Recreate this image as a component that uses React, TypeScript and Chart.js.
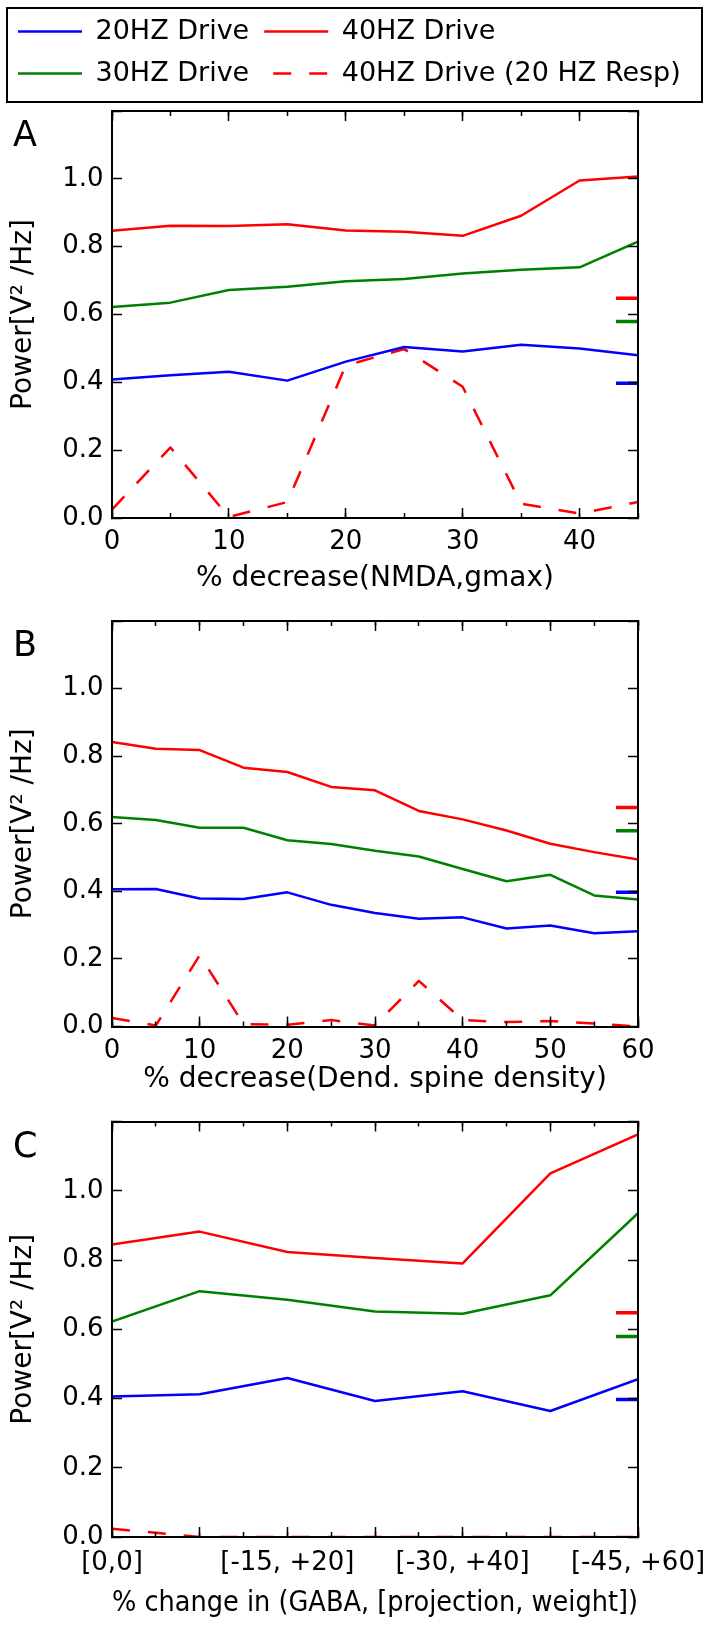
import React, { useEffect, useRef } from 'react';
import { Chart, registerables } from 'chart.js';

Chart.register(...registerables);

// ---------- data ----------
const LABEL_20 = '20HZ Drive';
const LABEL_30 = '30HZ Drive';
const LABEL_40 = '40HZ Drive';
const LABEL_40_R20 = '40HZ Drive (20 HZ Resp)';

const A_X = [0, 5, 10, 15, 20, 25, 30, 35, 40, 45];
const A_20HZ = [0.408, 0.421, 0.431, 0.405, 0.461, 0.504, 0.491, 0.511, 0.5, 0.48];
const A_30HZ = [0.622, 0.635, 0.672, 0.682, 0.698, 0.705, 0.721, 0.732, 0.739, 0.815];
const A_40HZ = [0.847, 0.862, 0.861, 0.866, 0.848, 0.844, 0.832, 0.891, 0.995, 1.007];
const A_40HZ_R20 = [0.025, 0.208, 0.003, 0.047, 0.45, 0.498, 0.387, 0.042, 0.013, 0.047];

const B_X = [0, 5, 10, 15, 20, 25, 30, 35, 40, 45, 50, 55, 60];
const B_20HZ = [0.406, 0.407, 0.379, 0.377, 0.397, 0.36, 0.336, 0.319, 0.323, 0.29, 0.299, 0.276, 0.282];
const B_30HZ = [0.62, 0.611, 0.588, 0.588, 0.551, 0.54, 0.52, 0.503, 0.466, 0.43, 0.449, 0.388, 0.376];
const B_40HZ = [0.842, 0.822, 0.818, 0.766, 0.753, 0.709, 0.699, 0.638, 0.613, 0.58, 0.541, 0.516, 0.494];
const B_40HZ_R20 = [0.025, 0.003, 0.211, 0.007, 0.005, 0.019, 0.003, 0.135, 0.019, 0.013, 0.016, 0.009, 0.0];

const C_X = [0, 10, 20, 30, 40, 50, 60];
const C_20HZ = [0.406, 0.412, 0.459, 0.393, 0.421, 0.364, 0.456];
const C_30HZ = [0.622, 0.71, 0.685, 0.651, 0.645, 0.698, 0.935];
const C_40HZ = [0.845, 0.882, 0.823, 0.806, 0.79, 1.05, 1.163];
const C_40HZ_R20 = [0.024, 0.0, 0.0, 0.0, 0.0, 0.0, 0.0];
const C_TICK_VALUES = [0, 20, 40, 60];
const C_TICK_LABELS = ['[0,0]', '[-15, +20]', '[-30, +40]', '[-45, +60]'];

// reference (baseline) power levels, shown as short marks on the right edge
const BASE_20HZ = 0.397;
const BASE_30HZ = 0.579;
const BASE_40HZ = 0.648;

const Y_MAX = 1.2;
const Y_STEP = 0.2;

const X_TITLE_A = '% decrease(NMDA,gmax)';
const X_TITLE_B = '% decrease(Dend. spine density)';
const X_TITLE_C = '% change in (GABA, [projection, weight])';
const Y_TITLE = 'Power[V\u00B2 /Hz]';

// ---------- styles ----------
const FONT = "'DejaVu Sans'";
const BLUE = '#0000ff';
const GREEN = '#008000';
const RED = '#ff0000';
const DASH = [18, 18];
const LEGEND_RANK = [0, 2, 1, 3];

const panelLetterPlugin = {
  id: 'panelLetter',
  afterDraw(chart: any, _args: any, opts: any) {
    if (!opts || !opts.text) return;
    const { ctx, chartArea } = chart;
    ctx.save();
    ctx.font = `35px ${FONT}`;
    ctx.fillStyle = '#000';
    ctx.textAlign = 'left';
    ctx.textBaseline = 'alphabetic';
    ctx.fillText(opts.text, 13, chartArea.top + 35);
    ctx.restore();
  },
};

const legendFramePlugin = {
  id: 'legendFrame',
  afterDraw(chart: any, _args: any, opts: any) {
    if (!opts || !opts.show) return;
    const { ctx } = chart;
    ctx.save();
    ctx.strokeStyle = '#000';
    ctx.lineWidth = 2;
    ctx.setLineDash([]);
    ctx.strokeRect(7, 8, 695, 94);
    ctx.restore();
  },
};

function pts(xs: number[], ys: number[]) {
  return xs.map((x, i) => ({ x, y: ys[i] }));
}

function lineDs(label: string, xs: number[], ys: number[], color: string, dash?: number[]) {
  return {
    label,
    data: pts(xs, ys),
    borderColor: color,
    backgroundColor: color,
    borderWidth: 2.5,
    borderDash: dash || [],
    pointRadius: 0,
    pointHoverRadius: 0,
    tension: 0,
    fill: false,
    clip: 0,
    borderJoinStyle: 'round',
  };
}

function baseDs(xMax: number, y: number, color: string) {
  return {
    label: '',
    data: [{ x: xMax, y }],
    showLine: false,
    pointStyle: 'line',
    pointRadius: 22,
    pointHoverRadius: 22,
    pointBorderWidth: 3.5,
    pointBorderColor: color,
    pointBackgroundColor: color,
    borderColor: color,
    clip: 0,
  };
}

interface PanelSpec {
  xs: number[];
  s20: number[];
  s30: number[];
  s40: number[];
  s40r: number[];
  xMax: number;
  letter: string;
  xTitle: string;
  xTick: (v: number) => string;
  canvasH: number;
  padTop: number;
  topAxisH: number;
  xAxisH: number;
  tickPad: number;
  titlePad: number;
  legend: boolean;
}

function makeConfig(p: PanelSpec): any {
  const tickFont = { family: FONT, size: 26 };
  const majorGrid = {
    drawOnChartArea: false,
    drawTicks: true,
    tickLength: -10,
    tickWidth: 1.5,
    tickColor: '#000',
    lineWidth: 1,
    z: 1,
  };
  const minorGrid = { ...majorGrid, tickLength: -5 };
  const border = { display: true, color: '#000', width: 2, z: 1 };
  const noBorder = { display: false };
  const noPad = (s: any) => {
    s.paddingTop = 0;
    s.paddingBottom = 0;
    s.paddingLeft = 0;
    s.paddingRight = 0;
  };

  const datasets = [
    lineDs(LABEL_20, p.xs, p.s20, BLUE),
    lineDs(LABEL_30, p.xs, p.s30, GREEN),
    lineDs(LABEL_40, p.xs, p.s40, RED),
    lineDs(LABEL_40_R20, p.xs, p.s40r, RED, DASH),
    baseDs(p.xMax, BASE_20HZ, BLUE),
    baseDs(p.xMax, BASE_30HZ, GREEN),
    baseDs(p.xMax, BASE_40HZ, RED),
  ];

  return {
    type: 'line',
    data: { datasets },
    options: {
      responsive: false,
      maintainAspectRatio: false,
      animation: false,
      devicePixelRatio: 1,
      events: [],
      layout: { autoPadding: false, padding: { top: p.padTop, left: 3, right: 0, bottom: 0 } },
      scales: {
        x: {
          type: 'linear',
          position: 'bottom',
          weight: 1,
          min: 0,
          max: p.xMax,
          afterFit: (s: any) => {
            s.height = p.xAxisH;
            noPad(s);
          },
          ticks: {
            stepSize: 10,
            includeBounds: false,
            autoSkip: false,
            maxRotation: 0,
            minRotation: 0,
            padding: p.tickPad,
            color: '#000',
            font: tickFont,
            callback: (v: number) => p.xTick(v),
          },
          grid: majorGrid,
          border,
          title: {
            display: true,
            text: p.xTitle,
            color: '#000',
            font: { family: FONT, size: 28, lineHeight: 1.2 },
            padding: { top: 0, bottom: p.titlePad },
          },
        },
        xMinor: {
          type: 'linear',
          position: 'bottom',
          weight: 0,
          min: 0,
          max: p.xMax,
          afterFit: (s: any) => {
            s.height = 0;
            noPad(s);
          },
          ticks: { stepSize: 5, display: false },
          grid: minorGrid,
          border: noBorder,
        },
        xTop: {
          type: 'linear',
          position: 'top',
          weight: 1,
          min: 0,
          max: p.xMax,
          afterFit: (s: any) => {
            s.height = p.topAxisH;
            noPad(s);
          },
          ticks: { stepSize: 10, display: false, includeBounds: false },
          grid: majorGrid,
          border,
        },
        xTopMinor: {
          type: 'linear',
          position: 'top',
          weight: 0,
          min: 0,
          max: p.xMax,
          afterFit: (s: any) => {
            s.height = 0;
            noPad(s);
          },
          ticks: { stepSize: 5, display: false },
          grid: minorGrid,
          border: noBorder,
        },
        y: {
          type: 'linear',
          position: 'left',
          min: 0,
          max: Y_MAX,
          afterFit: (s: any) => {
            s.width = 109;
            noPad(s);
          },
          ticks: {
            stepSize: Y_STEP,
            padding: 18.5,
            color: '#000',
            font: tickFont,
            callback: (v: number) => (v > 1.1 ? '' : Number(v).toFixed(1)),
          },
          grid: majorGrid,
          border,
          title: {
            display: true,
            text: Y_TITLE,
            color: '#000',
            font: { family: FONT, size: 28, lineHeight: 1.2 },
            padding: { top: 4, bottom: 0 },
          },
        },
        yRight: {
          type: 'linear',
          position: 'right',
          min: 0,
          max: Y_MAX,
          afterFit: (s: any) => {
            s.width = 72;
            noPad(s);
          },
          ticks: { stepSize: Y_STEP, display: false },
          grid: majorGrid,
          border,
        },
      },
      plugins: {
        tooltip: { enabled: false },
        title: { display: false },
        legend: {
          display: p.legend,
          position: 'top',
          align: 'start',
          labels: {
            usePointStyle: true,
            pointStyle: 'line',
            pointStyleWidth: 64,
            padding: 15,
            color: '#000',
            font: { family: FONT, size: 27 },
            generateLabels: (chart: any) =>
              chart.data.datasets.slice(0, 4).map((ds: any, i: number) => ({
                text: ds.label,
                fillStyle: ds.borderColor,
                strokeStyle: ds.borderColor,
                fontColor: '#000',
                lineWidth: 2.5,
                lineDash: ds.borderDash && ds.borderDash.length ? ds.borderDash : [],
                lineDashOffset: ds.borderDash && ds.borderDash.length ? 27 : 0,
                lineCap: 'butt',
                pointStyle: 'line',
                hidden: false,
                datasetIndex: i,
              })),
            sort: (a: any, b: any) => LEGEND_RANK[a.datasetIndex] - LEGEND_RANK[b.datasetIndex],
          },
        },
        panelLetter: { text: p.letter },
        legendFrame: { show: p.legend },
      },
    },
    plugins: [panelLetterPlugin, legendFramePlugin],
  };
}

const numTick = (v: number) => (Math.abs(v % 10) < 1e-9 ? String(v) : '');
const cTick = (v: number) => {
  const i = C_TICK_VALUES.indexOf(v);
  return i >= 0 ? C_TICK_LABELS[i] : '';
};

const PANELS: { top: number; spec: PanelSpec }[] = [
  {
    top: 0,
    spec: {
      xs: A_X, s20: A_20HZ, s30: A_30HZ, s40: A_40HZ, s40r: A_40HZ_R20,
      xMax: A_X[A_X.length - 1], letter: 'A', xTitle: X_TITLE_A, xTick: numTick,
      canvasH: 600, padTop: 3, topAxisH: 14, xAxisH: 82, tickPad: 19, titlePad: 4.5, legend: true,
    },
  },
  {
    top: 600,
    spec: {
      xs: B_X, s20: B_20HZ, s30: B_30HZ, s40: B_40HZ, s40r: B_40HZ_R20,
      xMax: B_X[B_X.length - 1], letter: 'B', xTitle: X_TITLE_B, xTick: numTick,
      canvasH: 505, padTop: 21, topAxisH: 0, xAxisH: 78.5, tickPad: 19.4, titlePad: 8.8, legend: false,
    },
  },
  {
    top: 1105,
    spec: {
      xs: C_X, s20: C_20HZ, s30: C_30HZ, s40: C_40HZ, s40r: C_40HZ_R20,
      xMax: C_X[C_X.length - 1], letter: 'C', xTitle: X_TITLE_C, xTick: cTick,
      canvasH: 522, padTop: 16.5, topAxisH: 0, xAxisH: 90, tickPad: 20.7, titlePad: 6.8, legend: false,
    },
  },
];

function Panel({ top, spec }: { top: number; spec: PanelSpec }) {
  const ref = useRef<HTMLCanvasElement>(null);
  useEffect(() => {
    if (!ref.current) return;
    const chart = new Chart(ref.current, makeConfig(spec));
    return () => chart.destroy();
  }, [spec]);
  return (
    <canvas
      ref={ref}
      width={710}
      height={spec.canvasH}
      style={{ position: 'absolute', left: 0, top, width: 710, height: spec.canvasH, display: 'block' }}
    />
  );
}

export default function App() {
  return (
    <div
      style={{
        position: 'absolute',
        left: 0,
        top: 0,
        width: 710,
        height: 1627,
        overflow: 'hidden',
        background: '#ffffff',
      }}
    >
      {PANELS.map((p, i) => (
        <Panel key={i} top={p.top} spec={p.spec} />
      ))}
    </div>
  );
}
